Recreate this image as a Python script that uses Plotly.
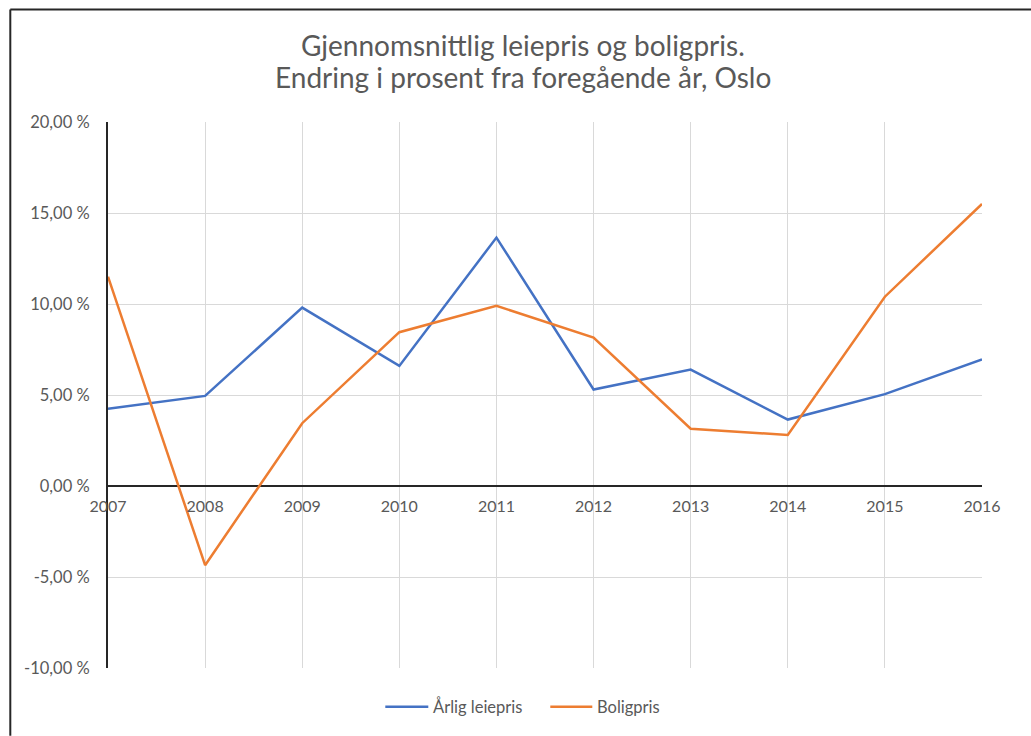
import plotly.graph_objects as go

years = [2007, 2008, 2009, 2010, 2011, 2012, 2013, 2014, 2015, 2016]
leiepris = [4.25, 4.95, 9.8, 6.6, 13.65, 5.3, 6.4, 3.65, 5.05, 6.95]
boligpris = [11.5, -4.35, 3.45, 8.45, 9.9, 8.15, 3.15, 2.8, 10.4, 15.5]
y_tickvals = [-10, -5, 0, 5, 10, 15, 20]
y_ticktext = ["-10,00 %", "-5,00 %", "0,00 %", "5,00 %", "10,00 %", "15,00 %", "20,00 %"]
series_names = ["Årlig leiepris", "Boligpris"]
series_colors = ["#4472C4", "#ED7D31"]
title_lines = ["Gjennomsnittlig leiepris og boligpris.", "Endring i prosent fra foregående år, Oslo"]

W, H = 1031, 736
L, R, T, B = 107.7, 981.7, 121.7, 668.3
PW, PH = R - L, B - T

def px(x):
    return (x - L) / PW

def py(y):
    return (B - y) / PH

FONT = "Lato"
GREY = "#595959"

fig = go.Figure()
for name, vals, col in zip(series_names, [leiepris, boligpris], series_colors):
    fig.add_trace(go.Scatter(x=years, y=vals, mode="lines", name=name,
                             line=dict(color=col, width=2.5), showlegend=False))

fig.update_layout(
    width=W, height=H, autosize=False,
    margin=dict(l=L, r=W - R, t=T, b=H - B, pad=0),
    paper_bgcolor="white", plot_bgcolor="white",
    font=dict(family=FONT, color=GREY, size=14),
)

fig.update_xaxes(
    range=[2007, 2016], tickvals=years, ticktext=[str(y) for y in years],
    showgrid=True, gridcolor="#D9D9D9", gridwidth=1,
    zeroline=False, showline=False, ticks="",
    anchor="free", position=py(486), ticklabelstandoff=9,
    tickfont=dict(size=16, color=GREY),
)
fig.update_yaxes(
    range=[-10, 20], tickvals=y_tickvals, ticktext=y_ticktext,
    showgrid=True, gridcolor="#D9D9D9", gridwidth=1,
    zeroline=True, zerolinecolor="#262626", zerolinewidth=2,
    showline=True, linecolor="#262626", linewidth=2, ticks="",
    ticklabelstandoff=13, tickfont=dict(size=16.5, color=GREY),
)

for txt, yy in zip(title_lines, [45, 77]):
    fig.add_annotation(text=txt, xref="paper", yref="paper", x=px(523), y=py(yy),
                       xanchor="center", yanchor="middle", showarrow=False,
                       font=dict(family=FONT, size=28, color=GREY))

# legend (drawn as line samples + labels)
legend_y = 707
for name, col, (x0, x1) in zip(series_names, series_colors, [(385, 428), (550, 592)]):
    fig.add_shape(type="line", xref="paper", yref="paper", x0=px(x0), x1=px(x1),
                  y0=py(legend_y), y1=py(legend_y), line=dict(color=col, width=2.5))
    fig.add_annotation(text=name, xref="paper", yref="paper", x=px(x1 + 3), y=py(legend_y),
                       xanchor="left", yanchor="middle", showarrow=False,
                       font=dict(family=FONT, size=16.5, color=GREY))

# outer frame (top and left edges visible)
fig.add_shape(type="line", xref="paper", yref="paper", x0=px(10), x1=px(1031), y0=py(9), y1=py(9),
              line=dict(color="#262626", width=2))
fig.add_shape(type="line", xref="paper", yref="paper", x0=px(10), x1=px(10), y0=py(9), y1=py(736),
              line=dict(color="#262626", width=2))

fig.write_html("out.html")
